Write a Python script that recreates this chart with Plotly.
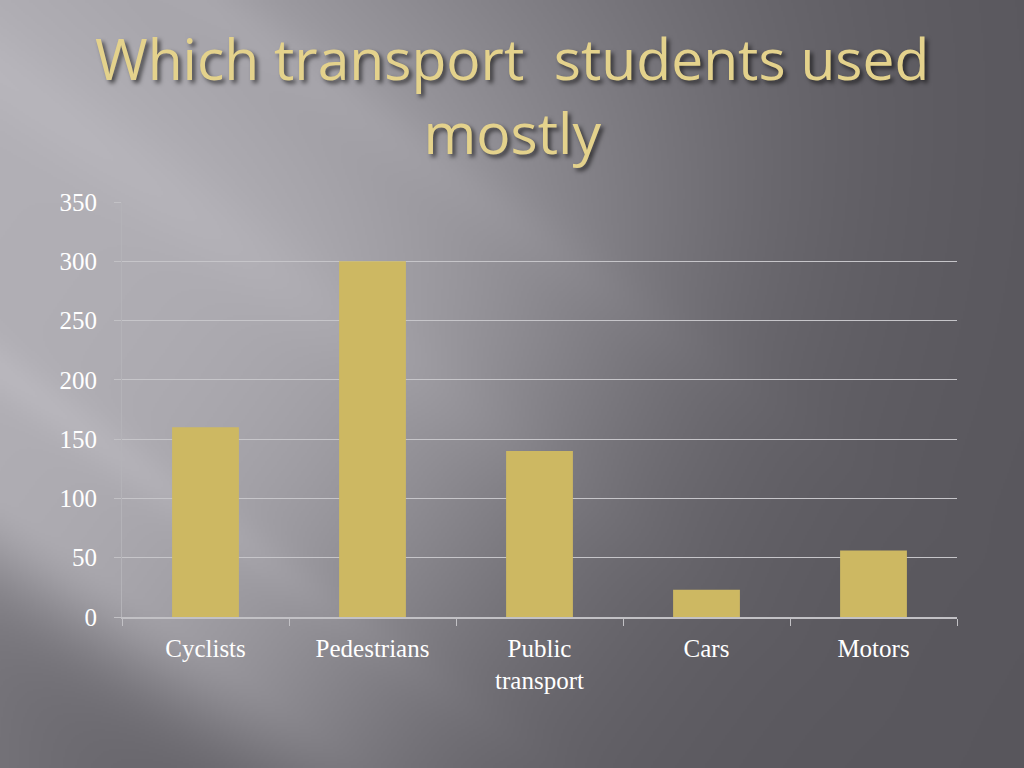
import base64
import struct
import zlib

import numpy as np
import plotly.graph_objects as go

categories = ["Cyclists", "Pedestrians", "Public<br>transport", "Cars", "Motors"]
values = [160, 300, 140, 23, 56]
y_ticks = [0, 50, 100, 150, 200, 250, 300, 350]
title_text = "Which transport&nbsp; students used<br>mostly"

W, H = 1024, 768
L, R, T, B = 122, 957, 202, 617


def pp(x, y):
    return (x - L) / (R - L), (B - y) / (B - T)


# ---- decorative slide background (gray with diagonal light streaks) ----
def background_png(w=512, h=384):
    xs = (np.arange(w) + 0.5) * (W / w)
    ys = (np.arange(h) + 0.5) * (H / h)
    X, Y = np.meshgrid(xs, ys)
    d = -0.584 * X + 0.811 * Y
    s = 0.811 * X + 0.584 * Y
    G = np.where(d > 400, np.exp(-((d - 400) / 80) ** 2),
                 np.where(d > 100, 1.0, np.exp(-((d - 100) / 480) ** 2)))
    F = 1 / (1 + np.exp((s - 680) / 120))
    main = 90 * G * F
    left = 28 * np.exp(-X / 250) * (1 - G)
    streak = (9 * np.exp(-((d - 300) / 25) ** 2) * F
              + 7 * np.exp(-((d + 120) / 30) ** 2) * F
              + 6 * np.exp(-((d - 60) / 40) ** 2) * F)
    g = 88 + main + left + streak
    img = np.stack([g, g - 2, g + 4], axis=-1)
    img = np.clip(img, 0, 255).astype(np.uint8)
    raw = b"".join(b"\x00" + img[i].tobytes() for i in range(h))

    def chunk(tag, data):
        return (struct.pack(">I", len(data)) + tag + data
                + struct.pack(">I", zlib.crc32(tag + data) & 0xFFFFFFFF))

    png = (b"\x89PNG\r\n\x1a\n"
           + chunk(b"IHDR", struct.pack(">IIBBBBB", w, h, 8, 2, 0, 0, 0))
           + chunk(b"IDAT", zlib.compress(raw, 9))
           + chunk(b"IEND", b""))
    return "data:image/png;base64," + base64.b64encode(png).decode()


x0, y0 = pp(0, 0)
xc = pp(512, 0)[0]

fig = go.Figure(
    go.Bar(x=categories, y=values, marker=dict(color="#cdb862", line=dict(width=0)))
)

title_font = dict(family="Open Sans", size=57, color="#e4d28c",
                  shadow="3px 3px 4px rgba(0,0,0,0.6)")

fig.update_layout(
    width=W, height=H,
    margin=dict(l=L, r=W - R, t=T, b=H - B),
    paper_bgcolor="#59575d",
    plot_bgcolor="rgba(0,0,0,0)",
    bargap=0.6,
    showlegend=False,
    images=[dict(source=background_png(), xref="paper", yref="paper",
                 x=x0, y=y0, sizex=W / (R - L), sizey=H / (B - T),
                 xanchor="left", yanchor="top", sizing="stretch", layer="below")],
    annotations=[
        dict(text=title_text, x=xc, y=pp(0, 95)[1], xref="paper", yref="paper",
             xanchor="center", yanchor="middle", showarrow=False, font=title_font),
    ],
    font=dict(family="Liberation Serif", size=25, color="#ffffff"),
)

fig.update_xaxes(
    showline=True, linecolor="#c2c1c5", linewidth=1.5,
    ticks="outside", tickson="boundaries", ticklen=7, tickcolor="#c2c1c5",
    showgrid=False, ticklabelstandoff=8,
    tickfont=dict(family="Liberation Serif", size=25, color="#ffffff"),
)
fig.update_yaxes(
    range=[0, 350], tickvals=y_ticks,
    showline=True, linecolor="#b4b3b8", linewidth=1,
    ticks="outside", ticklen=7, tickcolor="#c2c1c5",
    showgrid=True, gridcolor="#c6c5c9", gridwidth=1.2,
    zeroline=False, ticklabelstandoff=12,
    tickfont=dict(family="Liberation Serif", size=25, color="#ffffff"),
)

fig.write_html("out.html", config={"displayModeBar": False},
               post_script="document.body.style.margin='0';document.body.style.overflow='hidden';")
